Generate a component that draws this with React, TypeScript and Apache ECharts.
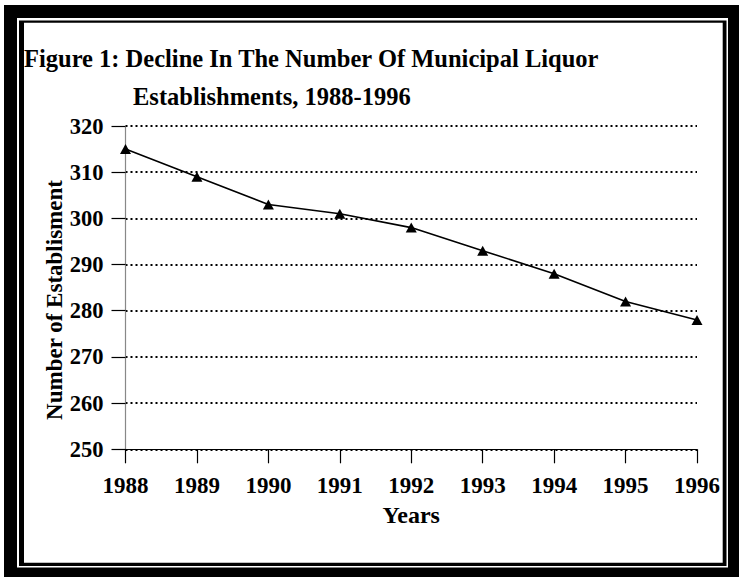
import React, { useEffect, useRef } from "react";
import * as echarts from "echarts";

const years = ["1988", "1989", "1990", "1991", "1992", "1993", "1994", "1995", "1996"];
const establishments = [315, 309, 303, 301, 298, 293, 288, 282, 278];
const titleLine1 = "Figure 1: Decline In The Number Of Municipal Liquor";
const titleLine2 = "Establishments, 1988-1996";
const yName = "Number of Establisment";
const xName = "Years";

const FONT = "'Liberation Serif', 'Times New Roman', serif";

export default function App() {
  const ref = useRef<HTMLDivElement>(null);
  useEffect(() => {
    if (!ref.current) return;
    const chart = echarts.init(ref.current, null, { renderer: "svg" });
    chart.setOption({
      animation: false,
      backgroundColor: "#fff",
      graphic: [
        { type: "rect", z: -10, shape: { x: 4, y: 5, width: 735, height: 572 }, style: { fill: "#000" } },
        { type: "rect", z: -9, shape: { x: 17, y: 18, width: 711, height: 549.5 }, style: { fill: "#fff" } },
        { type: "rect", z: -8, shape: { x: 19, y: 20.5, width: 707.5, height: 545.5 }, style: { fill: "#000" } },
        { type: "rect", z: -7, shape: { x: 24, y: 22.7, width: 698.7, height: 540 }, style: { fill: "#fff" } },
        {
          type: "text", x: 24, y: 58,
          style: { text: titleLine1, font: `bold 24.5px ${FONT}`, fill: "#000", align: "left", verticalAlign: "middle" },
        },
        {
          type: "text", x: 133, y: 96,
          style: { text: titleLine2, font: `bold 24.5px ${FONT}`, fill: "#000", align: "left", verticalAlign: "middle" },
        },
        {
          type: "text", x: 54, y: 300, rotation: Math.PI / 2,
          style: { text: yName, font: `bold 23px ${FONT}`, fill: "#000", align: "center", verticalAlign: "middle" },
        },
      ],
      grid: { left: 125.5, right: 42, top: 126, bottom: 127.7, containLabel: false },
      xAxis: {
        type: "category",
        data: years,
        boundaryGap: false,
        name: xName,
        nameLocation: "middle",
        nameGap: 54,
        nameTextStyle: { fontFamily: FONT, fontWeight: "bold", fontSize: 24, color: "#000" },
        axisLine: { lineStyle: { color: "#000", width: 1.2 } },
        axisTick: { show: true, length: 14, lineStyle: { color: "#000", width: 1.2 } },
        axisLabel: { fontFamily: FONT, fontWeight: "bold", fontSize: 23, color: "#000", margin: 25 },
        splitLine: { show: false },
      },
      yAxis: {
        type: "value",
        min: 250,
        max: 320,
        interval: 10,
        axisLine: { show: true, lineStyle: { color: "#888", width: 1.2 } },
        axisTick: { show: true, length: 14, lineStyle: { color: "#000", width: 1.2 } },
        axisLabel: { fontFamily: FONT, fontWeight: "bold", fontSize: 22.5, color: "#000", margin: 22 },
        splitLine: { show: true, lineStyle: { color: "#000", type: [2, 3], width: 2 } },
      },
      series: [
        {
          type: "line",
          data: establishments,
          symbol: "triangle",
          symbolSize: [11, 10],
          lineStyle: { color: "#000", width: 1.6 },
          itemStyle: { color: "#000" },
        },
      ],
    });
    return () => chart.dispose();
  }, []);
  return <div ref={ref} style={{ position: "fixed", left: 0, top: 0, width: 739, height: 577 }} />;
}
